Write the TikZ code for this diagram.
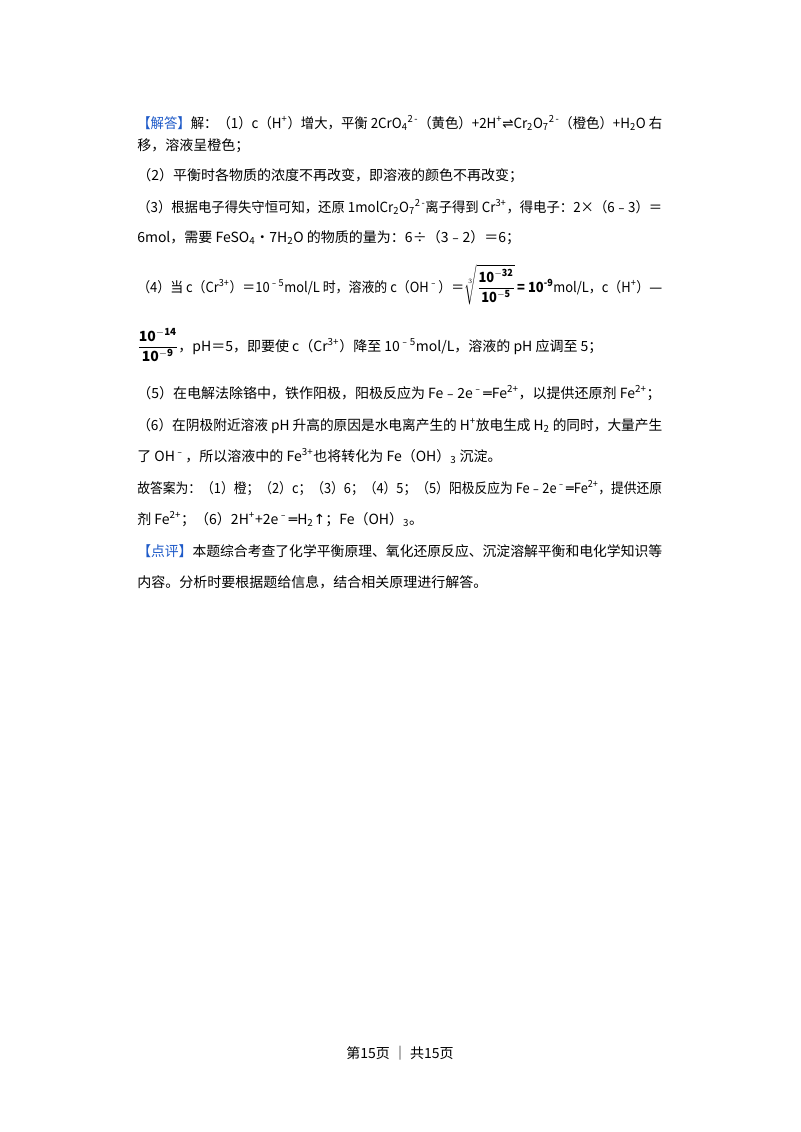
\documentclass[tikz,border=0pt]{standalone}
\usepackage{graphicx}
\usepackage{fontspec}
\setmainfont{Noto Sans CJK SC}
\newfontfamily\dvs{DejaVu Sans}
\definecolor{tagblue}{RGB}{30,90,200}
\newcommand{\sps}[1]{\textsuperscript{#1}}
\newcommand{\sbs}[1]{\textsubscript{#1}}
\newcommand{\fullline}[1]{\resizebox{393.75pt}{\height}{#1}}
\begin{document}
\begin{tikzpicture}[x=0.75pt,y=-0.75pt,
  ln/.style={anchor=base west,inner sep=0pt,font=\fontsize{10.5pt}{12pt}\selectfont}]
\useasboundingbox (0,0) rectangle (800,1132);
\fill[white] (0,0) rectangle (800,1132);
\node[ln] (l1) at (137,128) {\fullline{\textcolor{tagblue}{【解答】}解：（1）c（H\sps{+}）增大，平衡 2CrO\sbs{4}\sps{2\,-}（黄色）+2H\sps{+}{\dvs ⇌}Cr\sbs{2}O\sbs{7}\sps{2\,-}（橙色）+H\sbs{2}O 右}};
\node[ln] (l2) at (137,150) {移，溶液呈橙色；};
\node[ln] (l3) at (137,180) {（2）平衡时各物质的浓度不再改变，即溶液的颜色不再改变；};
\node[ln] (l4) at (137,212) {\fullline{（3）根据电子得失守恒可知，还原 1molCr\sbs{2}O\sbs{7}\sps{2\,-}离子得到 Cr\sps{3+}，得电子：2×（6﹣3）＝}};
\node[ln] (l5) at (137,242) {6mol，需要 FeSO\sbs{4}•7H\sbs{2}O 的物质的量为：6÷（3﹣2）＝6；};
\node[ln] (l6) at (137,292) {\fullline{（4）当 c（Cr\sps{3+}）＝10\sps{﹣5}mol/L 时，溶液的 c（OH\sps{﹣}）＝$\sqrt[3]{\displaystyle\frac{\mathbf{10^{-32}}}{\mathbf{10^{-5}}}}$\,\textbf{= 10\sps{-9}}mol/L，c（H\sps{+}）{\dvs —}}};
\node[ln] (l7) at (137,351) {$\displaystyle\frac{\mathbf{10^{-14}}}{\mathbf{10^{-9}}}$，pH＝5，即要使 c（Cr\sps{3+}）降至 10\sps{﹣5}mol/L，溶液的 pH 应调至 5；};
\node[ln] (l8) at (137,398) {（5）在电解法除铬中，铁作阳极，阳极反应为 Fe﹣2e\sps{﹣}{\dvs ═}Fe\sps{2+}，以提供还原剂 Fe\sps{2+}；};
\node[ln] (l9) at (137,430) {\fullline{（6）在阴极附近溶液 pH 升高的原因是水电离产生的 H\sps{+}放电生成 H\sbs{2} 的同时，大量产生}};
\node[ln] (l10) at (137,461) {了 OH\sps{﹣}，所以溶液中的 Fe\sps{3+}也将转化为 Fe（OH）\sbs{3} 沉淀。};
\node[ln] (l11) at (137,493) {\fullline{故答案为：（1）橙；（2）c；（3）6；（4）5；（5）阳极反应为 Fe﹣2e\sps{﹣}{\dvs ═}Fe\sps{2+}，提供还原}};
\node[ln] (l12) at (137,524) {剂 Fe\sps{2+}；（6）2H\sps{+}+2e\sps{﹣}{\dvs ═}H\sbs{2}{\dvs ↑}；Fe（OH）\sbs{3}。};
\node[ln] (l13) at (137,556) {\fullline{\textcolor{tagblue}{【点评】}本题综合考查了化学平衡原理、氧化还原反应、沉淀溶解平衡和电化学知识等}};
\node[ln] (l14) at (137,587) {内容。分析时要根据题给信息，结合相关原理进行解答。};
\node[ln,anchor=base] (ft) at (400,1058) {第15页 ｜ 共15页};
\end{tikzpicture}
\end{document}
